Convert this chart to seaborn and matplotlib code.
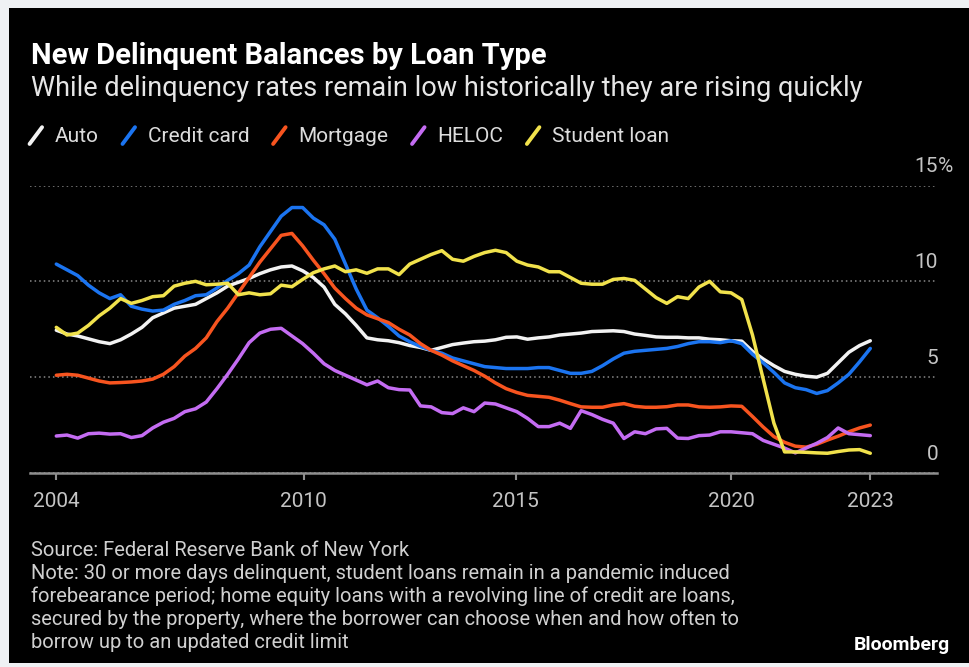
import numpy as np
import pandas as pd
import matplotlib
matplotlib.use("Agg")
import matplotlib.pyplot as plt
import matplotlib.transforms as mtransforms
from matplotlib.lines import Line2D
from matplotlib.patches import Rectangle
from matplotlib.legend_handler import HandlerBase
import seaborn as sns

# ---------------- data (quarterly, 2004Q1 .. 2023Q1) ----------------
quarters = pd.period_range("2004Q1", "2023Q1", freq="Q")

auto = [7.45, 7.25, 7.15, 7.0, 6.85, 6.75, 6.95, 7.25, 7.6, 8.1,
        8.35, 8.6, 8.7, 8.8, 9.1, 9.4, 9.75, 9.95, 10.15, 10.4,
        10.6, 10.75, 10.8, 10.55, 10.2, 9.7, 8.8, 8.3, 7.7, 7.05,
        6.95, 6.9, 6.8, 6.65, 6.55, 6.4, 6.55, 6.7, 6.78, 6.85,
        6.88, 6.95, 7.08, 7.1, 6.98, 7.05, 7.1, 7.2, 7.25, 7.3,
        7.38, 7.4, 7.42, 7.38, 7.25, 7.18, 7.1, 7.08, 7.08, 7.05,
        7.05, 6.98, 6.95, 6.9, 6.88, 6.35, 5.95, 5.6, 5.3, 5.15,
        5.05, 5.0, 5.2, 5.75, 6.3, 6.65, 6.9]

credit_card = [10.9, 10.6, 10.3, 9.8, 9.4, 9.1, 9.3, 8.7, 8.55, 8.45,
               8.5, 8.8, 9.0, 9.25, 9.3, 9.65, 10.05, 10.4, 10.85, 11.8,
               12.6, 13.4, 13.85, 13.85, 13.3, 12.95, 12.2, 10.9, 9.6, 8.5,
               8.1, 7.65, 7.15, 6.85, 6.6, 6.4, 6.25, 6.0, 5.85, 5.7,
               5.55, 5.5, 5.45, 5.45, 5.45, 5.5, 5.5, 5.35, 5.2, 5.2,
               5.3, 5.6, 5.95, 6.25, 6.35, 6.4, 6.45, 6.5, 6.6, 6.75,
               6.85, 6.85, 6.8, 6.9, 6.75, 6.2, 5.75, 5.25, 4.7, 4.45,
               4.35, 4.15, 4.3, 4.7, 5.15, 5.8, 6.5]

mortgage = [5.1, 5.15, 5.1, 4.95, 4.8, 4.7, 4.72, 4.75, 4.8, 4.9,
            5.15, 5.55, 6.1, 6.5, 7.05, 7.9, 8.6, 9.4, 10.2, 11.0,
            11.7, 12.4, 12.5, 11.85, 11.1, 10.4, 9.65, 9.1, 8.6, 8.25,
            8.05, 7.85, 7.5, 7.2, 6.75, 6.4, 6.15, 5.85, 5.6, 5.35,
            5.05, 4.7, 4.4, 4.2, 4.05, 4.0, 3.95, 3.8, 3.62, 3.45,
            3.43, 3.43, 3.55, 3.62, 3.48, 3.43, 3.43, 3.46, 3.55, 3.55,
            3.45, 3.43, 3.45, 3.5, 3.48, 2.95, 2.4, 1.9, 1.6, 1.4,
            1.35, 1.5, 1.72, 1.92, 2.15, 2.35, 2.5]

heloc = [1.93, 1.98, 1.82, 2.05, 2.08, 2.03, 2.05, 1.85, 1.95, 2.35,
         2.65, 2.85, 3.2, 3.35, 3.7, 4.4, 5.15, 5.95, 6.8, 7.3,
         7.5, 7.55, 7.15, 6.75, 6.25, 5.7, 5.35, 5.1, 4.85, 4.6,
         4.8, 4.45, 4.35, 4.33, 3.5, 3.45, 3.15, 3.1, 3.4, 3.2,
         3.65, 3.6, 3.4, 3.2, 2.85, 2.42, 2.42, 2.6, 2.33, 3.25,
         3.05, 2.8, 2.6, 1.8, 2.15, 2.05, 2.3, 2.33, 1.82, 1.8,
         1.95, 1.98, 2.15, 2.15, 2.1, 2.05, 1.7, 1.5, 1.3, 1.05,
         1.3, 1.55, 1.85, 2.35, 2.05, 2.0, 1.95]

student_loan = [7.6, 7.2, 7.3, 7.7, 8.2, 8.6, 9.1, 8.85, 9.0, 9.2,
                9.25, 9.75, 9.9, 10.0, 9.82, 9.85, 9.9, 9.3, 9.4, 9.3,
                9.35, 9.8, 9.72, 10.1, 10.45, 10.65, 10.8, 10.5, 10.6, 10.42,
                10.65, 10.65, 10.35, 10.9, 11.15, 11.4, 11.6, 11.15, 11.05, 11.3,
                11.5, 11.62, 11.5, 11.05, 10.85, 10.75, 10.5, 10.5, 10.2, 9.9,
                9.85, 9.85, 10.1, 10.15, 10.05, 9.6, 9.15, 8.85, 9.2, 9.1,
                9.7, 10.0, 9.45, 9.4, 9.05, 7.2, 4.9, 2.6, 1.1, 1.1,
                1.08, 1.05, 1.03, 1.12, 1.2, 1.22, 1.03]

series_names = ["Auto", "Credit card", "Mortgage", "HELOC", "Student loan"]
series_values = [auto, credit_card, mortgage, heloc, student_loan]
series_colors = ["#f2f2f2", "#1b74f0", "#f7541f", "#c46cf2", "#f1e24c"]

x_tick_labels = ["2004", "2010", "2015", "2020", "2023"]
x_tick_pos = [2004.0, 2009.77, 2014.72, 2019.76, 2023.0]
y_ticks = [0, 5, 10, 15]

# ---------------- build frame ----------------
dec_year = np.array([q.year + (q.quarter - 1) / 4 for q in quarters])
df = pd.concat(
    [pd.DataFrame({"year": dec_year, "value": v, "type": n})
     for n, v in zip(series_names, series_values)],
    ignore_index=True)

# ---------------- style ----------------
sns.set_theme(style="dark")
FONT = ["Liberation Sans Narrow", "Roboto", "DejaVu Sans"]
plt.rcParams["font.family"] = FONT

W, H = 969, 667
fig = plt.figure(figsize=(W / 100, H / 100), dpi=100, facecolor="#eff1f4")
fig.patches.append(Rectangle((9 / W, 4 / H), 960 / W, 655 / H,
                             transform=fig.transFigure, facecolor="black",
                             edgecolor="none", zorder=-10))

ax = fig.add_axes([30 / W, 1 - 473 / H, (937 - 30) / W, (473 - 185.5) / H])
ax.set_facecolor("none")

sns.lineplot(data=df, x="year", y="value", hue="type",
             hue_order=series_names, palette=series_colors,
             linewidth=2.5, legend=False, ax=ax, clip_on=False)

ax.set_xlim(2003.386, 2024.557)
ax.set_ylim(0, 15)
ax.set_xlabel("")
ax.set_ylabel("")

for s in ["top", "right", "left"]:
    ax.spines[s].set_visible(False)
ax.spines["bottom"].set_color("#8e8e8e")
ax.spines["bottom"].set_linewidth(1.8)

ax.set_xticks(x_tick_pos)
ax.set_xticklabels(x_tick_labels)
ax.tick_params(axis="x", direction="out", length=5, width=1.5,
               color="#8e8e8e", labelcolor="#c4c4c4", labelsize=15, pad=9,
               bottom=True)
ax.set_yticks(y_ticks)
ax.set_yticklabels([])
ax.tick_params(axis="y", length=0, left=False, right=False)
ax.grid(axis="y", color="#8a8a8a", linestyle=(0, (1, 2)), linewidth=1.1)
ax.grid(axis="x", visible=False)

# right-side y labels sitting above their gridlines
blend = mtransforms.blended_transform_factory(ax.transAxes, ax.transData)
lab_tr = mtransforms.offset_copy(blend, fig=fig, x=1, y=9, units="dots")
for v in y_ticks:
    ax.text(1.0, v, str(v), transform=lab_tr, ha="right", va="bottom",
            color="#c4c4c4", fontsize=15)
ax.text(1.0, 15, "%", transform=lab_tr, ha="left", va="bottom",
        color="#c4c4c4", fontsize=15)

# ---------------- legend with slash markers ----------------
class SlashHandler(HandlerBase):
    def create_artists(self, legend, orig_handle, xdescent, ydescent,
                       width, height, fontsize, trans):
        x0 = -xdescent + width * 0.1
        x1 = -xdescent + width * 0.9
        y0 = -ydescent - height * 0.1
        y1 = -ydescent + height * 1.05
        ln = Line2D([x0, x1], [y0, y1], color=orig_handle.get_color(),
                    linewidth=2.8, solid_capstyle="round", transform=trans)
        return [ln]

handles = [Line2D([], [], color=c) for c in series_colors]
leg = fig.legend(handles, series_names, loc="center left",
                 bbox_to_anchor=(28 / W, 1 - 137 / H), ncol=5, frameon=False,
                 handler_map={Line2D: SlashHandler()}, handlelength=0.75,
                 handletextpad=0.55, columnspacing=1.05, borderpad=0,
                 borderaxespad=0, fontsize=15)
for t in leg.get_texts():
    t.set_color("#dcdcdc")

# ---------------- titles & footer ----------------
fig.text(31 / W, 1 - 64 / H, "New Delinquent Balances by Loan Type",
         fontsize=21, fontweight="bold", color="white", va="baseline")
fig.text(31 / W, 1 - 96 / H,
         "While delinquency rates remain low historically they are rising quickly",
         fontsize=19.5, color="#e6e6e6", va="baseline")

footer = ["Source: Federal Reserve Bank of New York",
          "Note: 30 or more days delinquent, student loans remain in a pandemic induced",
          "forebearance period; home equity loans with a revolving line of credit are loans,",
          "secured by the property, where the borrower can choose when and how often to",
          "borrow up to an updated credit limit"]
for k, line in enumerate(footer):
    fig.text(31 / W, 1 - (556 + 23 * k) / H, line, fontsize=14.5,
             color="#d0d0d0", va="baseline")
fig.text(950 / W, 1 - 650 / H, "Bloomberg", fontsize=14, fontweight="bold",
         color="white", ha="right", va="baseline")

fig.savefig("out.png", dpi=100, facecolor=fig.get_facecolor())
